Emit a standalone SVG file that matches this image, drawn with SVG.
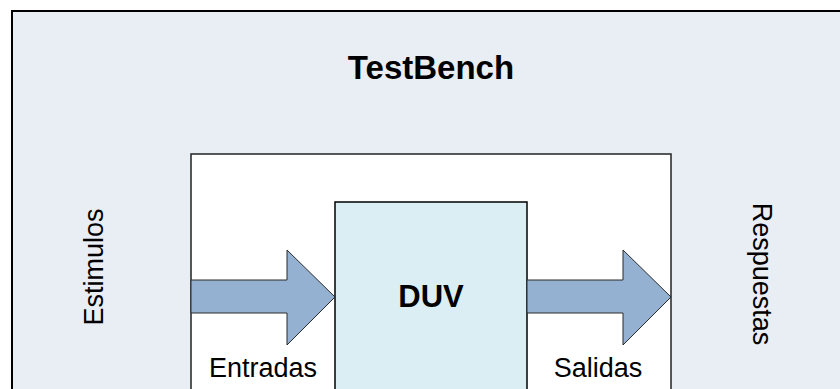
<svg xmlns="http://www.w3.org/2000/svg" width="840" height="389" viewBox="0 0 840 389">
  <style>
    .lbl { font-family: "Liberation Sans", Arial, sans-serif; font-size: 27px; fill: #000; }
    .title { font-family: "Liberation Sans", Arial, sans-serif; font-weight: bold; fill: #000; text-anchor: middle; }
    .arrow { fill: #95B1D1; stroke: #2b2b2b; stroke-width: 1; stroke-linejoin: miter; }
  </style>
  <rect x="0" y="0" width="840" height="389" fill="#ffffff"/>
  <g id="testbench">
    <rect x="12" y="11" width="840" height="400" fill="#E9EDF4" stroke="#000" stroke-width="2"/>
    <text class="title" x="431" y="79" font-size="33">TestBench</text>
    <text class="lbl" text-anchor="middle" transform="translate(103,267) rotate(-90)">Estimulos</text>
    <text class="lbl" text-anchor="middle" transform="translate(753,274) rotate(90)">Respuestas</text>
  </g>
  <g id="harness">
    <rect x="191" y="154" width="480" height="260" fill="#ffffff" stroke="#222" stroke-width="1.5"/>
  </g>
  <g id="duv">
    <rect x="335" y="202" width="192" height="220" fill="#DAEEF3" stroke="#000" stroke-width="1.5"/>
    <text class="title" x="431" y="307" font-size="31">DUV</text>
  </g>
  <g id="connectors">
    <polygon class="arrow" points="191,280 287,280 287,250 335,297 287,345 287,313 191,313"/>
    <polygon class="arrow" points="527,280 623,280 623,250 671,297 623,345 623,313 527,313"/>
    <text class="lbl" text-anchor="middle" x="263" y="377">Entradas</text>
    <text class="lbl" text-anchor="middle" x="598" y="377">Salidas</text>
  </g>
</svg>
